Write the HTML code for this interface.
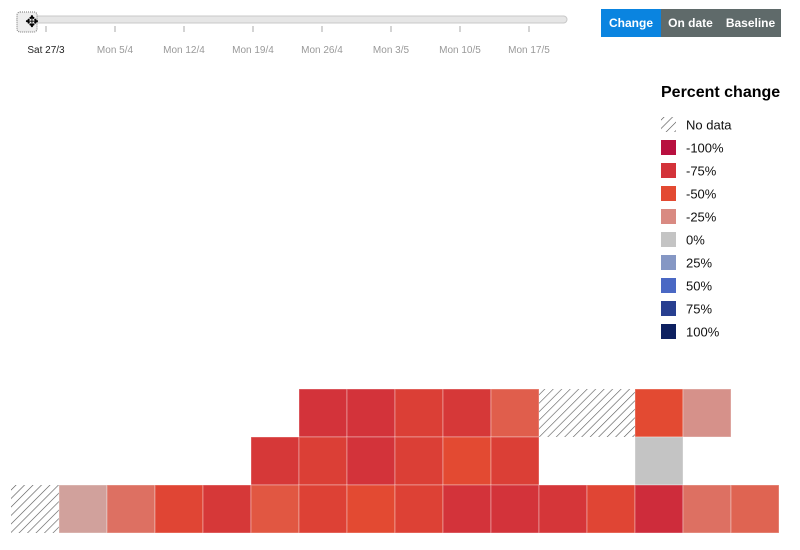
<!DOCTYPE html>
<html><head><meta charset="utf-8">
<style>
body{margin:0;width:800px;height:550px;background:#fff;font-family:"Liberation Sans",sans-serif;overflow:hidden;position:relative}
.btn{position:absolute;top:9px;height:28px;line-height:28px;color:#fff;font-weight:bold;font-size:12px;text-align:center}
</style></head><body>
<svg width="800" height="550" style="position:absolute;left:0;top:0">
<defs>
<pattern id="hatch" width="6" height="6" patternUnits="userSpaceOnUse" patternTransform="rotate(45)">
<rect width="6" height="6" fill="#fff"/><line x1="0" y1="0" x2="0" y2="6" stroke="#555" stroke-width="1.2"/>
</pattern>
</defs>
<g>
<rect x="17" y="16" width="550" height="7" rx="3.5" fill="#e6e6e6" stroke="#c8c8c8"/>
<g id="ticks"></g>
<rect x="17" y="12" width="20" height="20" rx="3" fill="#eee" stroke="#777" stroke-dasharray="1,1"/>
<text x="32" y="27" font-size="16" text-anchor="middle" fill="#000">✥</text>
</g>
<g id="heat"></g>
<g id="legend">
<text x="661" y="97" font-size="16" font-weight="bold" fill="#000">Percent change</text>
</g>
</svg>
<div class="btn" style="left:601px;width:60px;background:#0a84e0">Change</div>
<div class="btn" style="left:661px;width:59px;background:#5f6a6a">On date</div>
<div class="btn" style="left:720px;width:61px;background:#5f6a6a">Baseline</div>
<script>
const tickLabels=["Sat 27/3","Mon 5/4","Mon 12/4","Mon 19/4","Mon 26/4","Mon 3/5","Mon 10/5","Mon 17/5"];
const legendValues=[-100,-75,-50,-25,0,25,50,75,100];
const legendColors=["#b8103f","#d3333a","#e34a32","#d98a82","#c4c4c4","#8597c4","#4a68c4","#283f90","#0d2060"];
const rowTop=[null,null,null,null,null,null,-75,-75,-62,-70,-42,null,null,-50,-22,null];
const rowMid=[null,null,null,null,null,-70,-62,-75,-62,-50,-62,null,null,0,null,null];
const rowBot=[null,-15,-35,-55,-70,-45,-60,-50,-60,-75,-75,-72,-55,-80,-35,-40];
const rowPresent=[
 [0,0,0,0,0,0,1,1,1,1,1,1,1,1,1,0],
 [0,0,0,0,0,1,1,1,1,1,1,0,0,1,0,0],
 [1,1,1,1,1,1,1,1,1,1,1,1,1,1,1,1]];
const rows=[rowTop,rowMid,rowBot];
const NS="http://www.w3.org/2000/svg";
function hex(c){return [1,3,5].map(i=>parseInt(c.substr(i,2),16));}
function color(v){
 if(v<=legendValues[0])return legendColors[0];
 for(let i=0;i<legendValues.length-1;i++){
  if(v<=legendValues[i+1]){const t=(v-legendValues[i])/(legendValues[i+1]-legendValues[i]);
   const a=hex(legendColors[i]),b=hex(legendColors[i+1]);
   return "rgb("+a.map((x,k)=>Math.round(x+(b[k]-x)*t)).join(",")+")";}
 }
 return legendColors[legendColors.length-1];
}
const xT=i=>46+i*69;
const tk=document.getElementById("ticks");
tickLabels.forEach((l,i)=>{
 const ln=document.createElementNS(NS,"line");
 ln.setAttribute("x1",xT(i));ln.setAttribute("x2",xT(i));ln.setAttribute("y1",26);ln.setAttribute("y2",32);
 ln.setAttribute("stroke","#aaa");
 
 
 tk.appendChild(ln);
 const t=document.createElementNS(NS,"text");
 t.setAttribute("x",xT(i));t.setAttribute("y",53);t.setAttribute("font-size","10");
 t.setAttribute("text-anchor","middle");t.setAttribute("fill",i==0?"#222":"#999");
 t.textContent=l;
 
 
 tk.appendChild(t);
});
const cx=c=>11+c*48, cy=r=>389+r*48;
const hg=document.getElementById("heat");
rows.forEach((row,r)=>row.forEach((v,c)=>{
 if(!rowPresent[r][c])return;
 const rc=document.createElementNS(NS,"rect");
 rc.setAttribute("x",cx(c));rc.setAttribute("y",cy(r));rc.setAttribute("width",48);rc.setAttribute("height",48);
 rc.setAttribute("fill",v===null?"url(#hatch)":color(v));
 rc.setAttribute("stroke",v===null?"none":"rgba(255,255,255,0.35)");
 
 
 hg.appendChild(rc);
}));
const lg=document.getElementById("legend");
const items=[["No data",null]].concat(legendValues.map(v=>[v+"%",v]));
items.forEach((it,i)=>{
 const y=117+i*23;
 const s=document.createElementNS(NS,"rect");
 s.setAttribute("x",661);s.setAttribute("y",y);s.setAttribute("width",15);s.setAttribute("height",15);
 s.setAttribute("fill",it[1]===null?"url(#hatch)":legendColors[i-1]);
 
 
 lg.appendChild(s);
 const t=document.createElementNS(NS,"text");
 t.setAttribute("x",686);t.setAttribute("y",y+12.5);t.setAttribute("font-size","13");t.setAttribute("fill","#111");
 t.textContent=it[0];
 
 
 lg.appendChild(t);
});
</script>
</body></html>
